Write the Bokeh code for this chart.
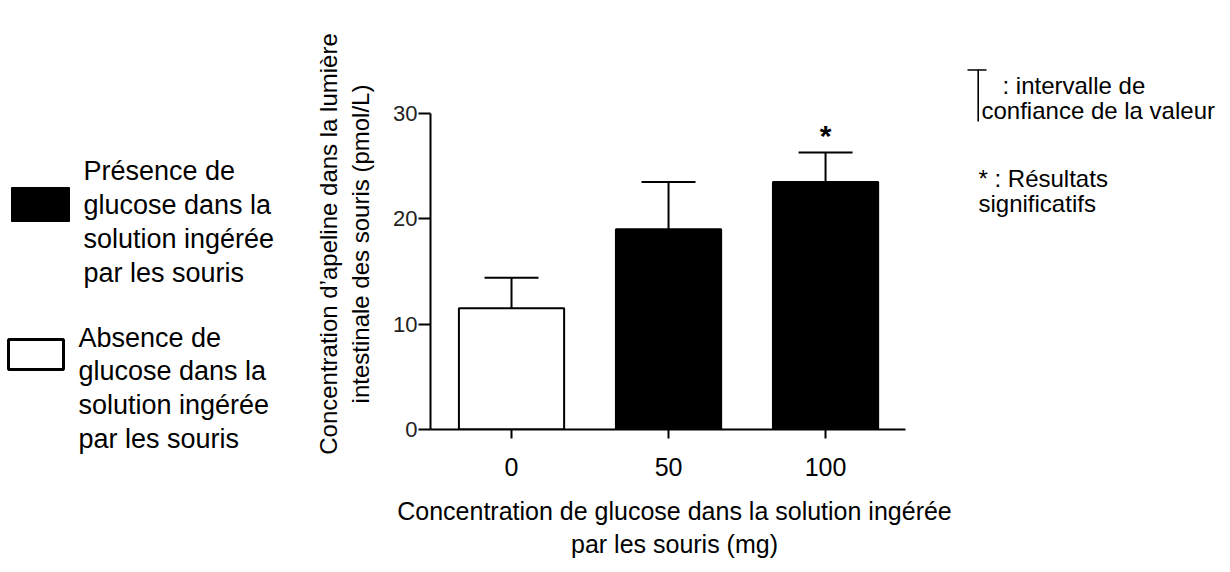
from bokeh.plotting import figure
from bokeh.layouts import row
from bokeh.models import Range1d, FixedTicker, ColumnDataSource, Whisker, TeeHead
from bokeh.core.properties import value
from bokeh.embed import file_html
from bokeh.resources import INLINE

# ---------------- data ----------------
categories = ["0", "50", "100"]
apelin_means = [11.5, 19.0, 23.5]
apelin_upper = [14.4, 23.5, 26.3]
bar_colors = ["white", "black", "black"]
significance = ["", "", "*"]
y_ticks = [0, 10, 20, 30]

legend_present = ["Présence de", "glucose dans la", "solution ingérée", "par les souris"]
legend_absent = ["Absence de", "glucose dans la", "solution ingérée", "par les souris"]
note_ci = [": intervalle de", "confiance de la valeur"]
note_sig = ["* : Résultats", "significatifs"]

x_label = "Concentration de glucose dans la solution ingérée\npar les souris (mg)"
y_label = "Concentration d\u2019apeline dans la lumière\nintestinale des souris (pmol/L)"

FONT = "Liberation Sans"
H = 564
W_LEFT, W_MAIN, W_RIGHT = 300, 660, 262

# main frame placement (canvas pixels)
FL, FR, FT, FB = 430, 918, 58, 429


def clean(fig):
    fig.outline_line_color = None
    fig.xgrid.visible = False
    fig.ygrid.visible = False
    fig.background_fill_color = "white"
    fig.border_fill_color = "white"


# ---------------- main chart ----------------
xs = list(range(len(categories)))
src = ColumnDataSource(dict(x=xs, top=apelin_means, upper=apelin_upper,
                            color=bar_colors, sig=significance))

x_start, x_end, x_axis_end = -0.516, 2.592, 2.51
y_end = 35.22

p = figure(width=W_MAIN, height=H, x_range=Range1d(x_start, x_end),
           y_range=Range1d(0, y_end), output_backend="svg",
           toolbar_location=None, title=None, frame_align=False,
           min_border_left=FL - W_LEFT, min_border_right=W_LEFT + W_MAIN - FR,
           min_border_top=FT, min_border_bottom=H - FB)
clean(p)

p.vbar(x="x", top="top", width=0.67, fill_color="color", line_color="black",
       line_width=2, source=src)
p.add_layout(Whisker(base="x", upper="upper", lower="top", source=src,
                     line_width=2, line_color="black",
                     upper_head=TeeHead(size=54, line_width=2, line_color="black"),
                     lower_head=None))
p.text(x="x", y="upper", text="sig", source=src, text_align="center",
       text_baseline="bottom", text_font=value(FONT), text_font_size="30px",
       text_font_style="bold", text_color="black")

xa = p.xaxis[0]
xa.bounds = (x_start, x_axis_end)
xa.ticker = FixedTicker(ticks=xs)
xa.major_label_overrides = {i: c for i, c in enumerate(categories)}
xa.minor_tick_line_color = None
xa.major_tick_out = 9
xa.major_tick_in = 0
xa.major_tick_line_width = 2
xa.axis_line_width = 2
xa.major_label_text_font = FONT
xa.major_label_text_font_size = "25px"
xa.major_label_text_color = "black"
xa.major_label_standoff = 19
xa.axis_label = x_label
xa.axis_label_text_font = FONT
xa.axis_label_text_font_size = "25px"
xa.axis_label_text_font_style = "normal"
xa.axis_label_text_color = "black"
xa.axis_label_standoff = 18

ya = p.yaxis[0]
ya.bounds = (0, 30)
ya.ticker = FixedTicker(ticks=y_ticks)
ya.minor_tick_line_color = None
ya.major_tick_out = 12
ya.major_tick_in = 0
ya.major_tick_line_width = 2
ya.axis_line_width = 2
ya.major_label_text_font = FONT
ya.major_label_text_font_size = "22px"
ya.major_label_text_color = "#222222"
ya.major_label_standoff = 1
ya.axis_label = y_label
ya.axis_label_text_font = FONT
ya.axis_label_text_font_size = "24px"
ya.axis_label_text_font_style = "normal"
ya.axis_label_text_color = "black"
ya.axis_label_standoff = 16

# ---------------- left legend (data units = canvas pixels) ----------------
left = figure(width=W_LEFT, height=H, x_range=Range1d(0, W_LEFT),
              y_range=Range1d(H, 0), output_backend="svg", toolbar_location=None,
              title=None, frame_align=False, min_border=0,
              x_axis_location=None, y_axis_location=None)
clean(left)
left.quad(left=[11], right=[69], top=[187], bottom=[221], fill_color="black",
          line_color="black", line_width=1)
left.quad(left=[8], right=[63], top=[339], bottom=[369], fill_color="white",
          line_color="black", line_width=3)
left.text(x=[83] * len(legend_present),
          y=[170 + 34.3 * i for i in range(len(legend_present))],
          text=legend_present, text_baseline="middle", text_align="left",
          text_font=value(FONT), text_font_size="27px", text_color="black")
left.text(x=[78] * len(legend_absent),
          y=[337 + 33.7 * i for i in range(len(legend_absent))],
          text=legend_absent, text_baseline="middle", text_align="left",
          text_font=value(FONT), text_font_size="27px", text_color="black")

# ---------------- right notes (data units = canvas pixels) ----------------
x0_right = W_LEFT + W_MAIN
right = figure(width=W_RIGHT, height=H, x_range=Range1d(x0_right, x0_right + W_RIGHT),
               y_range=Range1d(H, 0), output_backend="svg", toolbar_location=None,
               title=None, frame_align=False, min_border=0,
               x_axis_location=None, y_axis_location=None)
clean(right)
right.segment(x0=[977.7, 967], y0=[69, 69.5], x1=[977.7, 986], y1=[121, 69.5],
              line_color="black", line_width=1.6)
right.text(x=[1002, 981], y=[85, 110], text=note_ci, text_baseline="middle",
           text_align="left", text_font=value(FONT), text_font_size="24px",
           text_color="black")
right.text(x=[978, 978], y=[178, 203], text=note_sig, text_baseline="middle",
           text_align="left", text_font=value(FONT), text_font_size="24px",
           text_color="black")

layout = row(left, p, right, spacing=0)
open("out.html", "w").write(file_html(layout, INLINE))
